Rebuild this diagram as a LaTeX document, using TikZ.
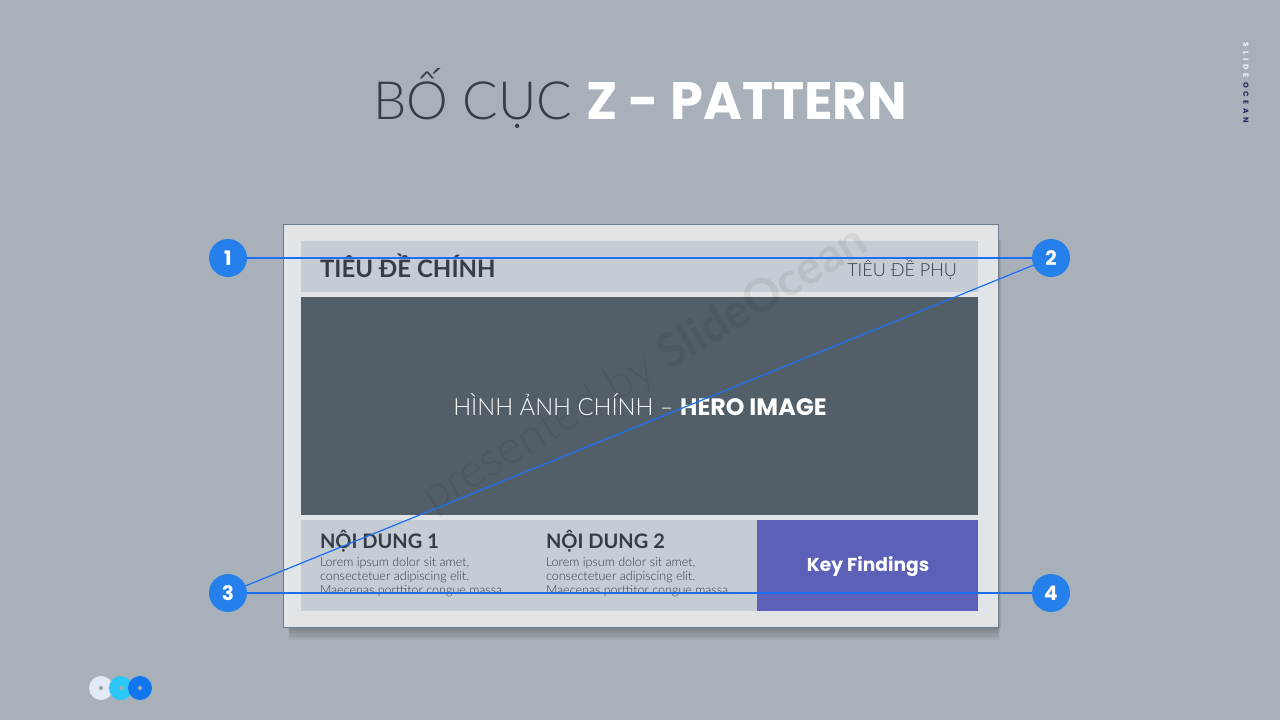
\documentclass[tikz,border=0pt]{standalone}
\usepackage{fontspec}
\setmainfont{Lato}
\newfontfamily\lightf{Lato Light}
\newfontfamily\popf{Poppins}
\definecolor{bgc}{HTML}{A8B1B9}
\definecolor{cardc}{HTML}{E1E5E8}
\definecolor{cardedge}{HTML}{6F7D8A}
\definecolor{barc}{HTML}{C5CCD3}
\definecolor{heroc}{HTML}{525F69}
\definecolor{purp}{HTML}{5C60B8}
\definecolor{circc}{HTML}{2680EB}
\definecolor{linec}{HTML}{1A6FF5}
\definecolor{darkt}{HTML}{353E48}
\definecolor{navy}{HTML}{1E2A5E}
\definecolor{dotA}{HTML}{E2EAF5}
\definecolor{dotB}{HTML}{2BC8F5}
\definecolor{dotC}{HTML}{1177EE}
\pgfdeclarelayer{front}
\pgfsetlayers{main,front}
\tikzset{
  num/.style={circle,fill=circc,minimum size=28.5pt,inner sep=0pt,text=white,font=\popf\bfseries\fontsize{15}{15}\selectfont},
  zline/.style={draw=linec,line width=0.9pt},
  txt/.style={inner sep=0pt,outer sep=0pt},
  lorem/.style={txt,anchor=base west,text=darkt,font=\lightf\fontsize{9.4}{10}\selectfont},
  head/.style={txt,anchor=base west,text=darkt,font=\bfseries\fontsize{15}{15}\selectfont},
}
\begin{document}
\begin{tikzpicture}[x=0.75pt,y=-0.75pt]
\fill[bgc] (0,0) rectangle (1280,720);
\useasboundingbox (0,0) rectangle (1280,720);
% title
\node[txt,anchor=base] (title) at (640,120) {\fontsize{39.5}{40}\selectfont\textcolor{darkt}{\lightf BỐ CỤC }\textcolor{white}{\popf\bfseries Z - PATTERN}};
% side brand
\node[txt,rotate=-90,anchor=center] (brand) at (1246,83) {\popf\bfseries\fontsize{5.5}{5.5}\selectfont\addfontfeatures{LetterSpace=50}\textcolor{white!90!bgc}{SLIDE} \textcolor{navy}{OCEAN}};
% card shadow
\foreach \i in {0,...,7}
  \fill[black,opacity=0.035] (287+\i*0.4,240) rectangle (1001-\i*0.4,628+\i*1.7);
% card
\fill[cardc,draw=cardedge,line width=0.75pt] (283,225) rectangle (998,627);
\fill[barc] (301,241) rectangle (978,292);
\fill[heroc] (301,297) rectangle (978,515);
\fill[barc] (301,520) rectangle (757,611);
\fill[purp] (757,520) rectangle (978,611);
% watermark
\node[txt,rotate=31,text=black,opacity=0.065] (wm) at (645,370) {\fontsize{35}{35}\selectfont{\lightf presented by }{\bfseries SlideOcean}};
% texts
\node[head,font=\bfseries\fontsize{18}{18}\selectfont] (t1) at (320,277) {TIÊU ĐỀ CHÍNH};
\node[txt,anchor=base east,text=darkt,font=\lightf\fontsize{13.5}{14}\selectfont] (t2) at (957,276) {TIÊU ĐỀ PHỤ};
\node[txt,anchor=base,text=white,font=\fontsize{17.8}{18}\selectfont] (hero) at (640,415) {{\lightf HÌNH ẢNH CHÍNH – }{\popf\bfseries HERO IMAGE}};
\node[head] (c1) at (320,548) {NỘI DUNG 1};
\node[lorem] (l11) at (320,566) {Lorem ipsum dolor sit amet,};
\node[lorem] (l12) at (320,580) {consectetuer adipiscing elit.};
\node[lorem] (l13) at (320,594) {Maecenas porttitor congue massa.};
\node[head] (c2) at (546,548) {NỘI DUNG 2};
\node[lorem] (l21) at (546,566) {Lorem ipsum dolor sit amet,};
\node[lorem] (l22) at (546,580) {consectetuer adipiscing elit.};
\node[lorem] (l23) at (546,594) {Maecenas porttitor congue massa.};
\node[txt,text=white,font=\popf\bfseries\fontsize{14}{14}\selectfont] (kf) at (868,567) {Key Findings};
% numbered circles
\begin{pgfonlayer}{front}
\node[num] (n1) at (228,258) {1};
\node[num] (n2) at (1051,258) {2};
\node[num] (n3) at (228,593) {3};
\node[num] (n4) at (1051,593) {4};
\end{pgfonlayer}
\draw[zline] (n1.center) -- (n2.center);
\draw[zline] (n2.center) -- (n3.center);
\draw[zline] (n3.center) -- (n4.center);
% bottom-left dots
\fill[dotA] (101,688) circle[radius=9pt];
\fill[dotB] (121,688) circle[radius=9pt];
\fill[dotC] (140,688) circle[radius=9pt];
\fill[bgc!80!gray] (101,688) circle[radius=1.6pt];
\fill[bgc!80!gray] (121,688) circle[radius=1.6pt];
\fill[bgc!80!gray] (140,688) circle[radius=1.6pt];
\end{tikzpicture}
\end{document}
